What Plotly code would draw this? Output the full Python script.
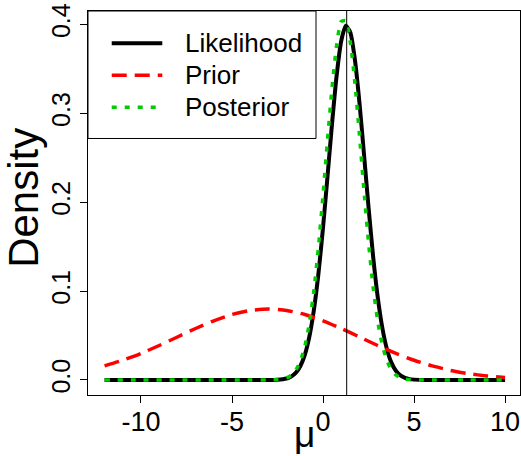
import plotly.graph_objects as go

# ---- data ----
lik_x = [-12, -10, -8, -6, -4, -3, -2.5, -2, -1.75, -1.5, -1.25, -1, -0.75, -0.5, -0.25,
         0, 0.25, 0.5, 0.75, 1, 1.25, 1.5, 1.75, 2, 2.25, 2.5, 2.75, 3, 3.25, 3.5,
         3.75, 4, 4.25, 4.5, 4.75, 5, 5.5, 6, 8, 10]
lik_y = [0, 0, 0, 0, 0, 0.0000, 0.0003, 0.0017, 0.0038, 0.0079, 0.0155, 0.0283, 0.0488, 0.0790, 0.1200,
         0.1714, 0.2299, 0.2897, 0.3429, 0.3814, 0.3984, 0.3910, 0.3605, 0.3123, 0.2541, 0.1942, 0.1394, 0.0940, 0.0596, 0.0355,
         0.0198, 0.0104, 0.0051, 0.0024, 0.0010, 0.0004, 0.0001, 0, 0, 0]

prior_x = [-12, -11, -10, -9, -8, -7, -6, -5, -4, -3, -2, -1, 0, 1, 2, 3, 4, 5, 6, 7, 8, 9, 10]
prior_y = [0.0158, 0.0222, 0.0299, 0.0388, 0.0484, 0.0579, 0.0666, 0.0737, 0.0782, 0.0798, 0.0782,
           0.0737, 0.0666, 0.0579, 0.0484, 0.0388, 0.0299, 0.0222, 0.0158, 0.0108, 0.0071, 0.0045, 0.0027]

post_x = [-12, -10, -8, -6, -4, -3, -2.5, -2.25, -2, -1.75, -1.5, -1.25, -1, -0.75, -0.5, -0.25,
          0, 0.25, 0.5, 0.75, 1, 1.25, 1.5, 1.75, 2, 2.25, 2.5, 2.75, 3, 3.25, 3.5,
          3.75, 4, 4.25, 4.5, 4.75, 5, 5.5, 6, 8, 10]
post_y = [0, 0, 0, 0, 0, 0.0001, 0.0004, 0.0010, 0.0024, 0.0053, 0.0110, 0.0211, 0.0379, 0.0640, 0.1012, 0.1500,
          0.2082, 0.2708, 0.3300, 0.3769, 0.4032, 0.4043, 0.3798, 0.3344, 0.2758, 0.2131, 0.1543, 0.1047, 0.0666, 0.0397, 0.0221,
          0.0116, 0.0057, 0.0026, 0.0011, 0.0004, 0.0002, 0, 0, 0, 0]

xbar = 1.3
series_names = ["Likelihood", "Prior", "Posterior"]
x_ticks = [-10, -5, 0, 5, 10]
x_ticklabels = ["-10", "-5", "0", "5", "10"]
y_ticks = [0.0, 0.1, 0.2, 0.3, 0.4]
y_ticklabels = ["0.0", "0.1", "0.2", "0.3", "0.4"]

FONT = "Liberation Sans, Arial, Helvetica, sans-serif"
styles = [
    dict(color="black", width=4),
    dict(color="#ff0000", width=3.5, dash="15px,8px"),
    dict(color="#00cc00", width=3.5, dash="5px,8px"),
]

fig = go.Figure()
for xs, ys, name, st in zip([lik_x, prior_x, post_x], [lik_y, prior_y, post_y], series_names, styles):
    fig.add_trace(go.Scatter(x=xs, y=ys, mode="lines", name=name, showlegend=False,
                             line=dict(shape="spline", smoothing=0.6, **st)))

fig.add_vline(x=xbar, line=dict(color="black", width=1))

# manual legend (R-style box in the top-left corner)
fig.add_shape(type="rect", xref="paper", yref="paper", x0=0, x1=0.5278, y0=0.668, y1=1,
              line=dict(color="black", width=1), fillcolor="white", layer="above")
row_y = [0.9159, 0.8326, 0.7492]
for ry, name, st in zip(row_y, series_names, styles):
    fig.add_shape(type="line", xref="paper", yref="paper", x0=0.0549, x1=0.172, y0=ry, y1=ry,
                  line=st, layer="above")
    fig.add_annotation(text=name, xref="paper", yref="paper", x=0.2199, y=ry,
                       xanchor="left", yanchor="middle", showarrow=False,
                       font=dict(size=26, family=FONT, color="black"))

fig.update_layout(
    width=521, height=456,
    margin=dict(l=88, r=1, t=11, b=61),
    paper_bgcolor="white", plot_bgcolor="white",
    font=dict(family=FONT, color="black"),
    showlegend=False,
)
fig.update_xaxes(range=[-12.91, 10.82], showgrid=False, zeroline=False,
                 showline=True, linecolor="black", linewidth=1, mirror=True,
                 tickmode="array", tickvals=x_ticks, ticktext=x_ticklabels,
                 ticks="outside", ticklen=7, tickcolor="black",
                 ticklabelstandoff=-4, tickfont=dict(size=27, family=FONT))
fig.update_yaxes(range=[-0.0169, 0.4151], showgrid=False, zeroline=False,
                 showline=True, linecolor="black", linewidth=1, mirror=True,
                 tickmode="array", tickvals=y_ticks, ticktext=y_ticklabels,
                 ticks="outside", ticklen=7, tickcolor="black", tickangle=-90,
                 tickfont=dict(size=25, family=FONT))

fig.add_annotation(text="Density", xref="paper", yref="paper", x=-0.15, y=0.514,
                   xanchor="center", yanchor="middle", textangle=-90, showarrow=False,
                   font=dict(size=42, family=FONT))
fig.add_annotation(text="μ", xref="paper", yref="paper", x=0.5, y=-0.043,
                   xanchor="center", yanchor="top", showarrow=False,
                   font=dict(size=37, family=FONT))

fig.write_html("out.html")
